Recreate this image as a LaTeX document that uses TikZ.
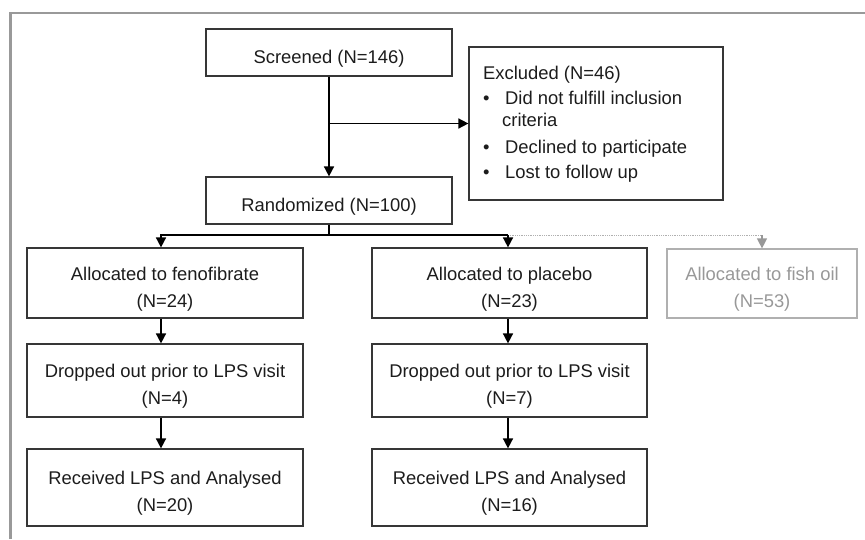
\documentclass[tikz,border=0pt]{standalone}
\usepackage{fontspec}
\setmainfont{Liberation Sans}
\usetikzlibrary{arrows.meta,calc}
\definecolor{boxline}{HTML}{363636}
\definecolor{txt}{HTML}{1C1C1C}
\definecolor{framegray}{HTML}{999999}
\definecolor{faint}{HTML}{989898}
\definecolor{faintline}{HTML}{B0B0B0}
\begin{document}
\begin{tikzpicture}[x=1pt,y=-1pt,
  txtstyle/.style={font=\fontsize{18.4}{27}\selectfont, text=txt, inner sep=0pt},
  lbl/.style={txtstyle, align=center, yshift=-6pt},
  box/.style={draw=boxline, line width=1.2pt, inner sep=0pt},
  tx/.style={label={[lbl]center:{#1}}},
  ftx/.style={label={[lbl, text=faint]center:{#1}}},
  fbox/.style={draw=faintline, line width=1.2pt, inner sep=0pt},
  arr/.style={draw=black, line width=1.6pt, -{Triangle[width=10pt,length=10pt]}},
  plainln/.style={draw=black, line width=1.6pt},
  garr/.style={draw=faint, line width=1.2pt, -{Triangle[width=10pt,length=10pt]}},
  dotln/.style={draw=faintline, line width=0.8pt, densely dotted}
]
\useasboundingbox (0,0) rectangle (865,539);
% outer frame
\draw[framegray, line width=2.5pt] (10.5,539) -- (10.5,13) -- (865,13);

% boxes
\node[box, minimum width=246pt, minimum height=47pt, tx={Screened (N=146)}] (screen) at (329,52.5) {};
\node[box, minimum width=246pt, minimum height=47pt, tx={Randomized (N=100)}] (rand) at (329,200.5) {};
\node[box, minimum width=254pt, minimum height=153pt] (excl) at (596,123.5) {};
\node[box, minimum width=276pt, minimum height=70pt, tx={Allocated to fenofibrate\\(N=24)}] (feno) at (165,283) {};
\node[box, minimum width=275pt, minimum height=70pt, tx={Allocated to placebo\\(N=23)}] (plac) at (509.5,283) {};
\node[fbox, minimum width=190pt, minimum height=69pt, ftx={Allocated to fish oil\\(N=53)}] (fish) at (762,283.5) {};
\node[box, minimum width=276pt, minimum height=73pt, tx={Dropped out prior to LPS visit\\(N=4)}] (dropa) at (165,380.5) {};
\node[box, minimum width=275pt, minimum height=73pt, tx={Dropped out prior to LPS visit\\(N=7)}] (dropb) at (509.5,380.5) {};
\node[box, minimum width=276pt, minimum height=77pt, tx={Received LPS and Analysed\\(N=20)}] (reca) at (165,487.5) {};
\node[box, minimum width=275pt, minimum height=77pt, tx={Received LPS and Analysed\\(N=16)}] (recb) at (509.5,487.5) {};

% excluded box text
\node[txtstyle, anchor=base west] (exhead) at (483,79) {Excluded (N=46)};
\node[txtstyle, anchor=base west] (bula) at (483,104) {\textbullet};
\node[txtstyle, anchor=base west] (exa) at (505,104) {Did not fulfill inclusion};
\node[txtstyle, anchor=base west] (exb) at (502,126) {criteria};
\node[txtstyle, anchor=base west] (bulb) at (483,153) {\textbullet};
\node[txtstyle, anchor=base west] (exc) at (505,153) {Declined to participate};
\node[txtstyle, anchor=base west] (bulc) at (483,178) {\textbullet};
\node[txtstyle, anchor=base west] (exd) at (505,178) {Lost to follow up};

% connectors
\coordinate (bus) at (329,235);
\draw[arr] (screen) -- (rand);
\draw[arr] (screen.south |- excl.west) -- (excl.west);
\draw[plainln] (rand.south) -- (rand.south |- bus);
\draw[dotln] ([xshift=-1.5pt]plac.north |- bus) -- (fish.north |- bus);
\draw[garr] (fish.north |- bus) -- (fish.north);
\draw[arr] ([xshift=-1.5pt]plac.north |- bus) -- ([xshift=-4pt]feno.north |- bus) -- ([xshift=-4pt]feno.north);
\draw[arr] ([xshift=-1.5pt]plac.north |- bus) -- ([xshift=-1.5pt]plac.north);
\draw[arr] ([xshift=-4pt]feno.south) -- ([xshift=-4pt]dropa.north);
\draw[arr] ([xshift=-1.5pt]plac.south) -- ([xshift=-1.5pt]dropb.north);
\draw[arr] ([xshift=-4pt]dropa.south) -- ([xshift=-4pt]reca.north);
\draw[arr] ([xshift=-1.5pt]dropb.south) -- ([xshift=-1.5pt]recb.north);
\end{tikzpicture}
\end{document}
